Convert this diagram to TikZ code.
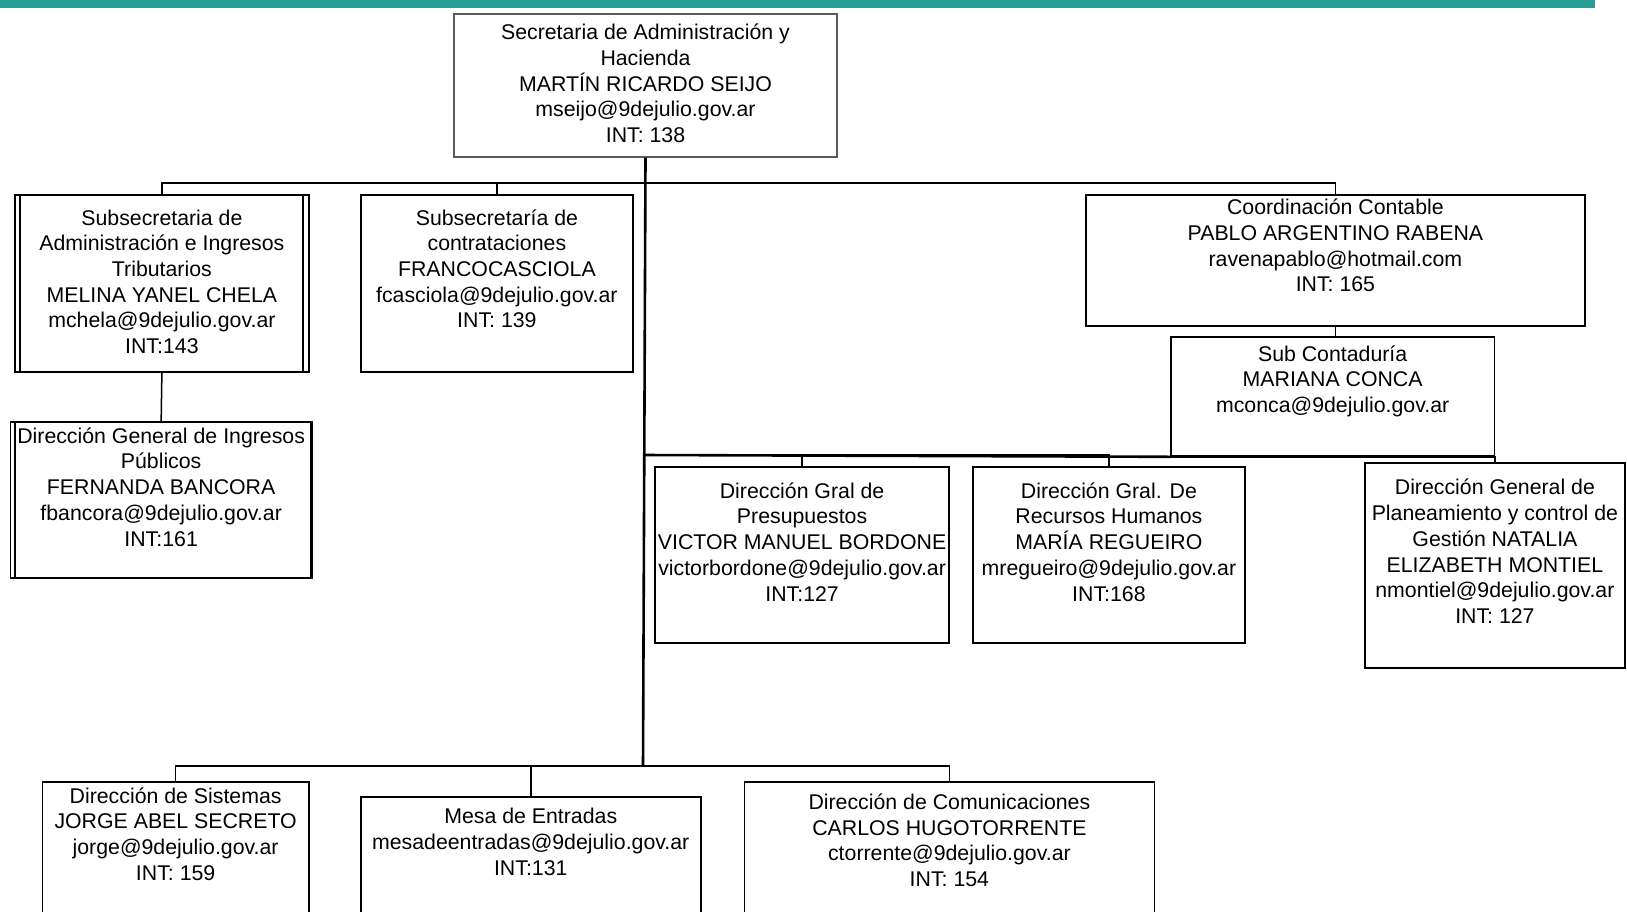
\documentclass[tikz,border=0pt]{standalone}
\usepackage{fontspec}
\setmainfont{Liberation Sans}
\definecolor{barteal}{RGB}{38,158,147}
\definecolor{topgray}{RGB}{90,90,90}
\tikzset{
  orgbox/.style={draw=black, line width=1.8pt, inner sep=0pt, anchor=north west, fill=white},
  topbox/.style={orgbox, draw=topgray, line width=2pt},
  txt/.style={inner sep=0pt, align=center, anchor=north, font=\fontsize{21.3}{25.7}\selectfont},
  conn/.style={draw=black, line width=1.5pt},
  mainline/.style={draw=black, line width=2.6pt},
}
\begin{document}
\begin{tikzpicture}[x=1pt,y=-1pt]
\clip (0,0) rectangle (1627,911);
\fill[white] (0,0) rectangle (1627,911);
\fill[barteal] (0,0) rectangle (1595,8);

% junction points
\coordinate (j1) at (643,183);
\coordinate (j2) at (643,455);
\coordinate (j3) at (643,766);

% boxes
\node[topbox, minimum width=383pt, minimum height=142.5pt] (top) at (453,13) {};
\node[orgbox, minimum width=294pt, minimum height=177pt] (b1) at (14,194) {};
\node[orgbox, minimum width=272pt, minimum height=177pt] (b2) at (360,194) {};
\node[orgbox, minimum width=301.5pt, minimum height=156pt] (b3) at (9.5,421) {};
\node[orgbox, minimum width=499pt, minimum height=131pt] (coord) at (1085,194) {};
\node[orgbox, minimum width=323.5pt, minimum height=119pt] (subc) at (1170,336) {};
\node[orgbox, minimum width=294.4pt, minimum height=175.7pt] (presup) at (654,466) {};
\node[orgbox, minimum width=272pt, minimum height=175.7pt] (rrhh) at (972,466) {};
\node[orgbox, minimum width=260pt, minimum height=205pt] (plan) at (1364,462) {};
\node[orgbox, minimum width=266.5pt, minimum height=150pt] (sist) at (41.5,781) {};
\node[orgbox, minimum width=340.3pt, minimum height=150pt] (mesa) at (359.7,796) {};
\node[orgbox, minimum width=410pt, minimum height=150pt] (comun) at (743.5,781) {};

% double side lines
\draw[line width=1.5pt] ([xshift=6pt]b1.north west) -- ([xshift=6pt]b1.south west);
\draw[line width=1.5pt] ([xshift=-7pt]b1.north east) -- ([xshift=-7pt]b1.south east);
\draw[line width=1.5pt] ([xshift=5.4pt]b3.north west) -- ([xshift=5.4pt]b3.south west);
\draw[line width=1.2pt] ([xshift=-2.2pt]b3.north east) -- ([xshift=-2.2pt]b3.south east);

% connectors
\draw[conn] (b1.north) |- (j1) -| (coord.north);
\draw[conn] (b2.north) |- (j1);
\draw[conn] (b1.south) -- (b3.north);
\draw[conn] (coord.south) -- (coord.south |- subc.north);
\draw[mainline] (j2) -- (subc.south west);
\draw[conn] (subc.south west) -| (plan.north);
\draw[conn] (presup.north) |- (j2);
\draw[conn] (rrhh.north) |- (j2);
\draw[conn] (sist.north) |- (j3);
\draw[conn] (mesa.north) |- (j3);
\draw[conn] (comun.north) |- (j3);
\draw[mainline] (top.south) -- (j3);

% texts
\node[txt] (topt) at ([yshift=-8.7pt]top.north) {\strut Secretaria de Administración y\\Hacienda\\MARTÍN RICARDO SEIJO\\mseijo@9dejulio.gov.ar\\INT: 138};
\node[txt] (b1t) at ([yshift=-13pt]b1.north) {\strut Subsecretaria de\\Administración e Ingresos\\Tributarios\\MELINA YANEL CHELA\\mchela@9dejulio.gov.ar\\INT:143};
\node[txt] (b2t) at ([yshift=-13pt]b2.north) {\strut Subsecretaría de\\contrataciones\\FRANCOCASCIOLA\\fcasciola@9dejulio.gov.ar\\INT: 139};
\node[txt] (b3t) at ([yshift=-4pt]b3.north) {\strut Dirección General de Ingresos\\Públicos\\FERNANDA BANCORA\\fbancora@9dejulio.gov.ar\\INT:161};
\node[txt] (coordt) at ([yshift=-2.5pt]coord.north) {\strut Coordinación Contable\\PABLO ARGENTINO RABENA\\ravenapablo@hotmail.com\\INT: 165};
\node[txt] (subct) at ([yshift=-7pt]subc.north) {\strut Sub Contaduría\\MARIANA CONCA\\mconca@9dejulio.gov.ar};
\node[txt] (presupt) at ([yshift=-14pt]presup.north) {\strut Dirección Gral de\\Presupuestos\\VICTOR MANUEL BORDONE\\victorbordone@9dejulio.gov.ar\\INT:127};
\node[txt] (rrhht) at ([yshift=-14pt]rrhh.north) {\strut Dirección Gral. De\\Recursos Humanos\\MARÍA REGUEIRO\\mregueiro@9dejulio.gov.ar\\INT:168};
\node[txt] (plant) at ([yshift=-14.7pt]plan.north) {\strut Dirección General de\\Planeamiento y control de\\Gestión NATALIA\\ELIZABETH MONTIEL\\nmontiel@9dejulio.gov.ar\\INT: 127};
\node[txt] (sistt) at ([yshift=-4pt]sist.north) {\strut Dirección de Sistemas\\JORGE ABEL SECRETO\\jorge@9dejulio.gov.ar\\INT: 159};
\node[txt] (mesat) at ([yshift=-9.6pt]mesa.north) {\strut Mesa de Entradas\\mesadeentradas@9dejulio.gov.ar\\INT:131};
\node[txt] (comunt) at ([yshift=-10.3pt]comun.north) {\strut Dirección de Comunicaciones\\CARLOS HUGOTORRENTE\\ctorrente@9dejulio.gov.ar\\INT: 154};
\end{tikzpicture}
\end{document}
